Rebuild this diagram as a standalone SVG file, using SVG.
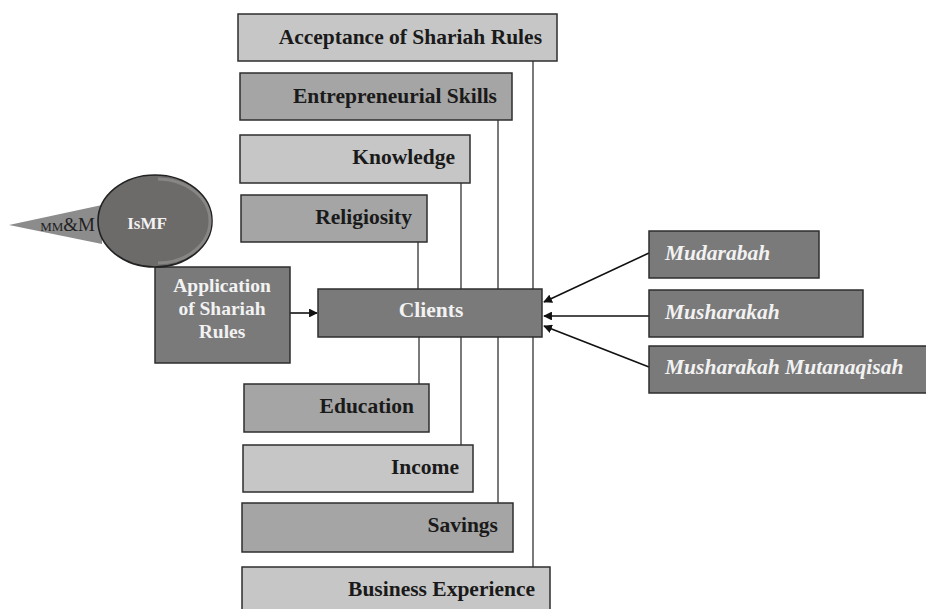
<svg xmlns="http://www.w3.org/2000/svg" width="926" height="609" viewBox="0 0 926 609">
  <defs>
    <style>
      .box { stroke: #2e2e2e; stroke-width: 1.5; }
      .light { fill: #c6c6c6; }
      .mid { fill: #a5a5a5; }
      .dark { fill: #7a7a7a; }
      .lbl { font-family: "Liberation Serif", "Times New Roman", serif; font-weight: bold; font-size: 21.5px; fill: #1a1a1a; text-anchor: end; }
      .wlbl { font-family: "Liberation Serif", "Times New Roman", serif; font-weight: bold; font-size: 21.5px; fill: #f2f2f2; }
      .app { font-size: 19.5px; text-anchor: middle; }
      .ital { font-style: italic; }
      .link { stroke: #7a7a7a; stroke-width: 2; fill: none; }
      .arrow { stroke: #111; stroke-width: 1.6; fill: none; marker-end: url(#head); }
    </style>
    <marker id="head" viewBox="0 0 10 10" refX="9" refY="5" markerWidth="5.5" markerHeight="5.5" orient="auto" markerUnits="strokeWidth">
      <path d="M0,0 L10,5 L0,10 z" fill="#111"/>
    </marker>
  </defs>

  <rect width="926" height="609" fill="#ffffff"/>

  <!-- connectors -->
  <g id="connectors">
    <!-- upper factors down to Clients -->
    <line class="link" x1="533" y1="61" x2="533" y2="289"/>
    <line class="link" x1="498" y1="120" x2="498" y2="289"/>
    <line class="link" x1="461" y1="183" x2="461" y2="289"/>
    <line class="link" x1="418" y1="242" x2="418" y2="289"/>
    <!-- Clients down to lower factors -->
    <line class="link" x1="419" y1="337" x2="419" y2="384"/>
    <line class="link" x1="461" y1="337" x2="461" y2="445"/>
    <line class="link" x1="498" y1="337" x2="498" y2="503"/>
    <line class="link" x1="533" y1="337" x2="533" y2="567"/>
    <!-- arrows into Clients -->
    <line class="arrow" x1="290" y1="313" x2="317" y2="313"/>
    <line class="arrow" x1="649" y1="253" x2="544" y2="302"/>
    <line class="arrow" x1="649" y1="316" x2="544" y2="316"/>
    <line class="arrow" x1="649" y1="367" x2="544" y2="326"/>
  </g>

  <g id="acceptance">
    <rect class="box light" x="238" y="14" width="319" height="47"/>
    <text class="lbl" x="542" y="44">Acceptance of Shariah Rules</text>
  </g>
  <g id="entrepreneurial">
    <rect class="box mid" x="240" y="73" width="272" height="47"/>
    <text class="lbl" x="497" y="103">Entrepreneurial Skills</text>
  </g>
  <g id="knowledge">
    <rect class="box light" x="240" y="135" width="230" height="48"/>
    <text class="lbl" x="455" y="164">Knowledge</text>
  </g>
  <g id="religiosity">
    <rect class="box mid" x="241" y="195" width="186" height="47"/>
    <text class="lbl" x="412" y="224">Religiosity</text>
  </g>

  <g id="clients">
    <rect class="box dark" x="318" y="289" width="224" height="48"/>
    <text class="wlbl" x="431" y="317" text-anchor="middle">Clients</text>
  </g>

  <g id="education">
    <rect class="box mid" x="244" y="384" width="185" height="48"/>
    <text class="lbl" x="414" y="413">Education</text>
  </g>
  <g id="income">
    <rect class="box light" x="243" y="445" width="230" height="47"/>
    <text class="lbl" x="459" y="474">Income</text>
  </g>
  <g id="savings">
    <rect class="box mid" x="242" y="503" width="271" height="49"/>
    <text class="lbl" x="498" y="532">Savings</text>
  </g>
  <g id="business">
    <rect class="box light" x="242" y="567" width="308" height="50"/>
    <text class="lbl" x="535" y="596">Business Experience</text>
  </g>

  <g id="application">
    <rect class="box dark" x="155" y="267" width="135" height="96"/>
    <text class="wlbl app" x="222" y="292">Application</text>
    <text class="wlbl app" x="222" y="315">of Shariah</text>
    <text class="wlbl app" x="222" y="338">Rules</text>
  </g>

  <g id="ismf">
    <polygon points="9,225 102,205 102,244" fill="#8c8c8c"/>
    <text x="95" y="231" font-family="'Liberation Serif', 'Times New Roman', serif" fill="#222" text-anchor="end"><tspan font-size="13">MM</tspan><tspan font-size="19">&amp;M</tspan></text>
    <ellipse cx="155" cy="221" rx="57" ry="46" fill="#6d6a6a" stroke="#222" stroke-width="1.6"/>
    <path d="M158,179 A52,42 0 0 1 158,263" fill="none" stroke="#888585" stroke-width="3"/>
    <text x="147" y="229" font-family="'Liberation Serif', 'Times New Roman', serif" font-weight="bold" font-size="17" fill="#f2f2f2" text-anchor="middle">IsMF</text>
  </g>

  <g id="mudarabah">
    <rect class="box dark" x="649" y="231" width="170" height="47"/>
    <text class="wlbl ital" x="665" y="260">Mudarabah</text>
  </g>
  <g id="musharakah">
    <rect class="box dark" x="649" y="290" width="214" height="47"/>
    <text class="wlbl ital" x="665" y="319">Musharakah</text>
  </g>
  <g id="mutanaqisah">
    <rect class="box dark" x="649" y="346" width="280" height="47"/>
    <text class="wlbl ital" x="665" y="374">Musharakah Mutanaqisah</text>
  </g>
</svg>
